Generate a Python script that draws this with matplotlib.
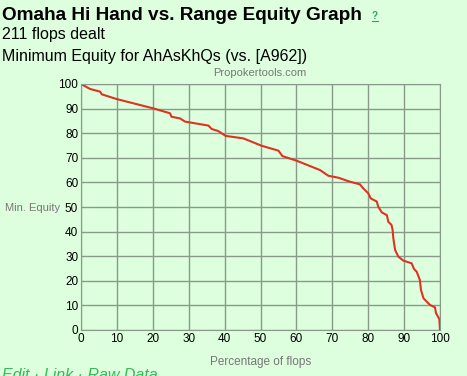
import matplotlib
matplotlib.use("Agg")
import matplotlib.pyplot as plt

# percentage of flops vs minimum equity
pct_flops = [0, 2.5, 5.3, 5.8, 9.9, 20.1, 24.8, 25.2, 27.6, 29.0, 35.5, 36.4, 38.2,
             40.3, 45.2, 47.1, 50.3, 55.0, 56.1, 60.1, 66.6, 68.9, 71.7, 74.9, 77.7,
             78.6, 80.0, 80.7, 82.4, 82.8, 83.8, 85.2, 85.6, 86.5, 86.8, 87.0, 87.5,
             88.4, 89.8, 92.1, 92.8, 93.5, 94.4, 94.7, 95.4, 97.2, 98.6, 98.9, 99.8, 100]
min_equity = [100, 98.0, 96.9, 95.8, 93.9, 90.1, 88.1, 86.7, 86.0, 84.7, 83.1, 81.7, 80.9,
              78.9, 77.9, 76.8, 74.9, 72.9, 70.7, 68.8, 65.0, 62.7, 61.9, 60.3, 59.2,
              57.6, 55.6, 53.5, 52.2, 50.1, 47.8, 46.7, 44.0, 42.7, 40.7, 37.3, 32.5,
              29.8, 28.2, 27.1, 24.7, 23.7, 20.3, 16.3, 12.9, 10.2, 9.2, 6.8, 4.5, 0]

ticks = list(range(0, 101, 10))

bg = "#ddffdd"
W, H = 467, 376
fig = plt.figure(figsize=(W / 100, H / 100), dpi=100, facecolor=bg)
plt.rcParams["font.family"] = ["Liberation Sans", "DejaVu Sans"]

ax = fig.add_axes([81 / W, 1 - 330 / H, 359 / W, 246 / H], facecolor=bg)
ax.plot(pct_flops, min_equity, color="#dd3322", lw=1.5)
ax.set_xlim(0, 100)
ax.set_ylim(0, 100)
ax.set_xticks(ticks)
ax.set_yticks(ticks)
ax.grid(True, color="#8a9a8a", lw=1)
ax.tick_params(length=0, labelsize=8.5, pad=2)
for s in ax.spines.values():
    s.set_color("#8a9a8a")
ax.set_xlabel("Percentage of flops", color="#777777", fontsize=8.5, labelpad=8)

fig.text(2 / W, 1 - 15 / H, "Omaha Hi Hand vs. Range Equity Graph", fontsize=13.7,
         fontweight="bold", va="center", ha="left")
fig.text(372 / W, 1 - 16 / H, "?", fontsize=7, color="#22aa55", va="center",
         ha="left", fontweight="bold")
fig.add_artist(plt.Line2D([372 / W, 378 / W], [1 - 21 / H, 1 - 21 / H],
                          color="#22aa55", lw=0.8))
fig.text(2 / W, 1 - 35 / H, "211 flops dealt", fontsize=11.5, va="center", ha="left")
fig.text(2 / W, 1 - 56 / H, "Minimum Equity for AhAsKhQs (vs. [A962])", fontsize=11.5,
         va="center", ha="left")
fig.text(260 / W, 1 - 73 / H, "Propokertools.com", fontsize=8, color="#777777",
         va="center", ha="center")
fig.text(5 / W, 1 - 208 / H, "Min. Equity", fontsize=8, color="#777777",
         va="center", ha="left")
fig.text(2 / W, 1 - 376 / H, "Edit · Link · Raw Data", fontsize=11.5, color="#33bb55",
         style="italic", va="center", ha="left")

fig.savefig("out.png", dpi=100, facecolor=bg)
